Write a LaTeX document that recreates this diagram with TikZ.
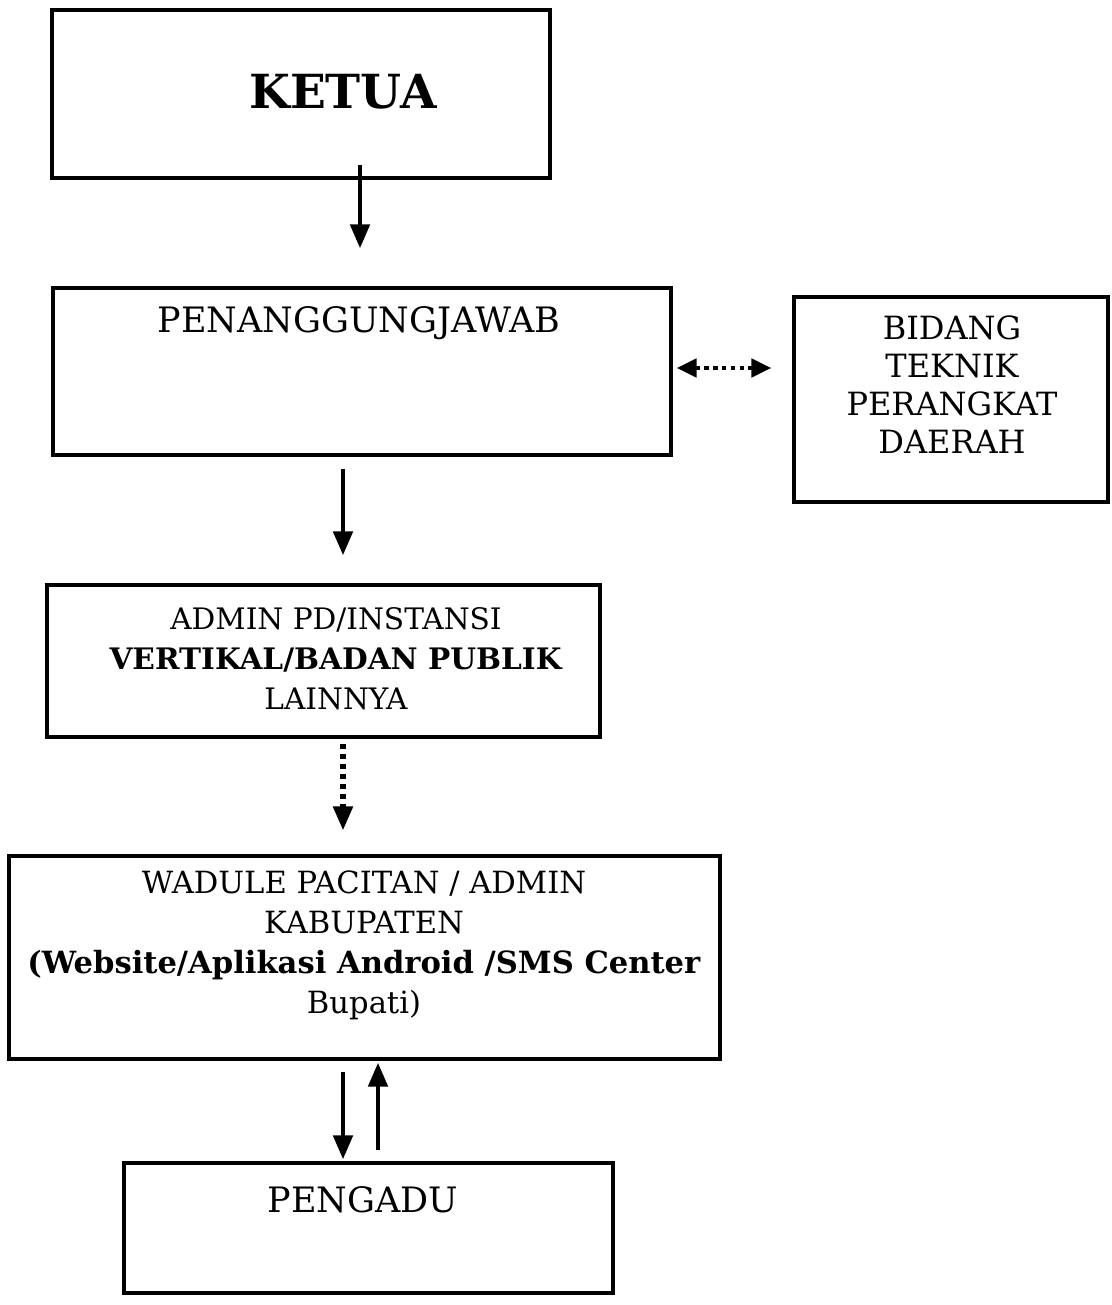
\documentclass[tikz,border=0pt]{standalone}
\usepackage{fontspec}
\setmainfont{DejaVu Serif}
\usetikzlibrary{arrows.meta,calc}
\tikzset{
  box/.style={draw, line width=1.6pt, inner sep=0pt,
    append after command={[line width=2.8pt]
      (\tikzlastnode.south west) edge (\tikzlastnode.south east)}},
  lbl/.style={align=center, inner sep=0pt},
  tip/.style={-{Triangle[length=12pt,width=9.5pt]}},
  arr/.style={line width=2.4pt, tip},
  dotarr/.style={line width=2.6pt, dash pattern=on 2.6pt off 2.4pt, tip},
  dotboth/.style={line width=2.2pt, dash pattern=on 2.2pt off 2.2pt,
    {Triangle[length=10pt,width=9pt]}-{Triangle[length=10pt,width=9pt]}},
}
\begin{document}
\begin{tikzpicture}[x=0.5pt,y=-0.5pt]
\useasboundingbox (0,0) rectangle (1112,1305);

% boxes
\node[box, minimum width=249pt, minimum height=84pt]   (ketua)   at (301,94) {};
\node[box, minimum width=309pt, minimum height=83.5pt] (pj)      at (362,371.5) {};
\node[box, minimum width=157pt, minimum height=102.5pt](bidang)  at (951,399.5) {};
\node[box, minimum width=276.5pt, minimum height=76pt] (admin)   at (323.5,661) {};
\node[box, minimum width=355.5pt, minimum height=101.5pt](wadule) at (364.5,957.5) {};
\node[box, minimum width=244.5pt, minimum height=65pt] (pengadu) at (368.5,1228) {};

% labels
\node[lbl, font=\fontsize{23.5}{26}\selectfont\bfseries] (tketua) at (343,92) {KETUA};
\node[lbl, font=\fontsize{17.5}{21}\selectfont] (tpj) at (359,323) {PENANGGUNGJAWAB};
\node[lbl, font=\fontsize{16}{19}\selectfont] (tbidang) at (952,385)
  {BIDANG\\TEKNIK\\PERANGKAT\\DAERAH};
\node[lbl, font=\fontsize{14.8}{20}\selectfont] (tadmin) at (336,659)
  {ADMIN PD/INSTANSI\\\textbf{VERTIKAL/BADAN PUBLIK}\\LAINNYA};
\node[lbl, font=\fontsize{15.3}{20}\selectfont] (twadule) at (364,945)
  {WADULE PACITAN / ADMIN\\KABUPATEN\\\textbf{(Website/Aplikasi Android /SMS Center}\\Bupati)};
\node[lbl, font=\fontsize{17.5}{21}\selectfont] (tpengadu) at (363,1200) {PENGADU};

% connectors
\draw[arr] ($(ketua.south)+(59,-15)$) -- ($(pj.north)+(-2,-38)$);
\draw[arr] ($(pj.south)+(-19,12)$) -- ($(admin.north)+(19.5,-28)$);
\draw[dotarr] ($(admin.south)+(19.5,5)$) -- ($(wadule.north)+(-21.5,-24)$);
\draw[dotboth] ($(pj.east)+(4,-3.5)$) -- ($(bidang.west)+(-21,-31.5)$);
\draw[arr] ($(wadule.south)+(-21.5,11)$) -- ($(pengadu.north)+(-25.5,-2)$);
\draw[arr] ($(pengadu.north)+(9.5,-11)$) -- ($(wadule.south)+(13.5,2)$);
\end{tikzpicture}
\end{document}
